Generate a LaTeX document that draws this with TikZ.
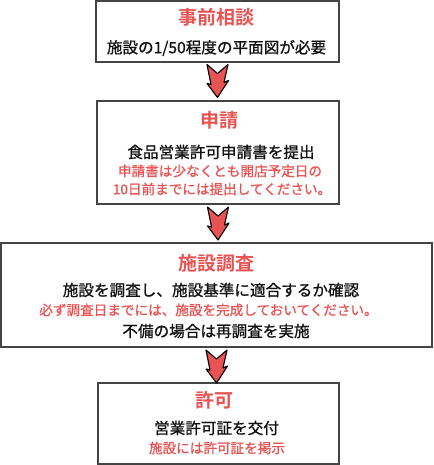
\documentclass[tikz,border=0pt]{standalone}
\usepackage{fontspec}
\setmainfont{Noto Sans CJK JP}[BoldFont={* Bold}]
\newfontfamily\inkfont{Noto Sans CJK JP}[FakeBold=0.9]
\usetikzlibrary{positioning}
\definecolor{flow-red}{RGB}{232,84,84}
\definecolor{flow-frame}{RGB}{68,68,68}
\definecolor{flow-ink}{RGB}{17,17,17}

\tikzset{
  stepframe/.style={draw=flow-frame, line width=2pt, fill=white, inner sep=0pt},
  headtext/.style={flow-red, inner sep=0pt, font=\fontsize{19}{19}\selectfont\bfseries},
  bodytext/.style={flow-ink, inner sep=0pt, font=\inkfont\fontsize{15.6}{15.6}\selectfont},
  notetext/.style={flow-red, inner sep=0pt, font=\inkfont\fontsize{13.6}{13.6}\selectfont},
  downarrow/.pic={
    \filldraw[fill=flow-red, draw=black, line width=1.1pt, line join=round]
      (-10.5,0) -- (0,9) -- (10.5,0) -- (6.5,18) -- (11,16) -- (0,33)
      -- (-10.5,19) -- (-6.5,20) -- cycle;
  }
}

\begin{document}
\begin{tikzpicture}[x=1pt, y=-1pt]
    \useasboundingbox (0,0) rectangle (433,465);

    % boxes
    \node[stepframe, minimum width=243pt, minimum height=61pt] (consult) at (217.5,31.5) {};
    \node[stepframe, minimum width=242pt, minimum height=103pt] (apply) at (218,152.5) {};
    \node[stepframe, minimum width=431pt, minimum height=104pt] (inspect) at (216.5,295) {};
    \node[stepframe, minimum width=241pt, minimum height=81pt] (permit) at (218.5,423.5) {};

    % arrows between the boxes
    \path (consult.south) ++(0,1.5) pic {downarrow};
    \path (apply.south) ++(0,2) pic {downarrow};
    \path (inspect.south) ++(0,2) pic {downarrow};

    % texts
    \node[headtext] (consult-head) at (216.5,17) {事前相談};
    \node[bodytext] (consult-body) at (216.5,48) {施設の1/50程度の平面図が必要};

    \node[headtext] (apply-head) at (219.5,120) {申請};
    \node[bodytext] (apply-body) at (221,152) {食品営業許可申請書を提出};
    \node[notetext] (apply-note1) at (220,171) {申請書は少なくとも開店予定日の};
    \node[notetext] (apply-note2) at (222,189) {10日前までには提出してください。};

    \node[headtext] (inspect-head) at (216,263) {施設調査};
    \node[bodytext] (inspect-body) at (211,290) {施設を調査し、施設基準に適合するか確認};
    \node[notetext] (inspect-note) at (208.5,310) {必ず調査日までには、施設を完成しておいてください。};
    \node[bodytext] (inspect-redo) at (216,331) {不備の場合は再調査を実施};

    \node[headtext] (permit-head) at (214.5,400) {許可};
    \node[bodytext] (permit-body) at (216.5,428) {営業許可証を交付};
    \node[notetext] (permit-note) at (217,448) {施設には許可証を掲示};
\end{tikzpicture}
\end{document}
